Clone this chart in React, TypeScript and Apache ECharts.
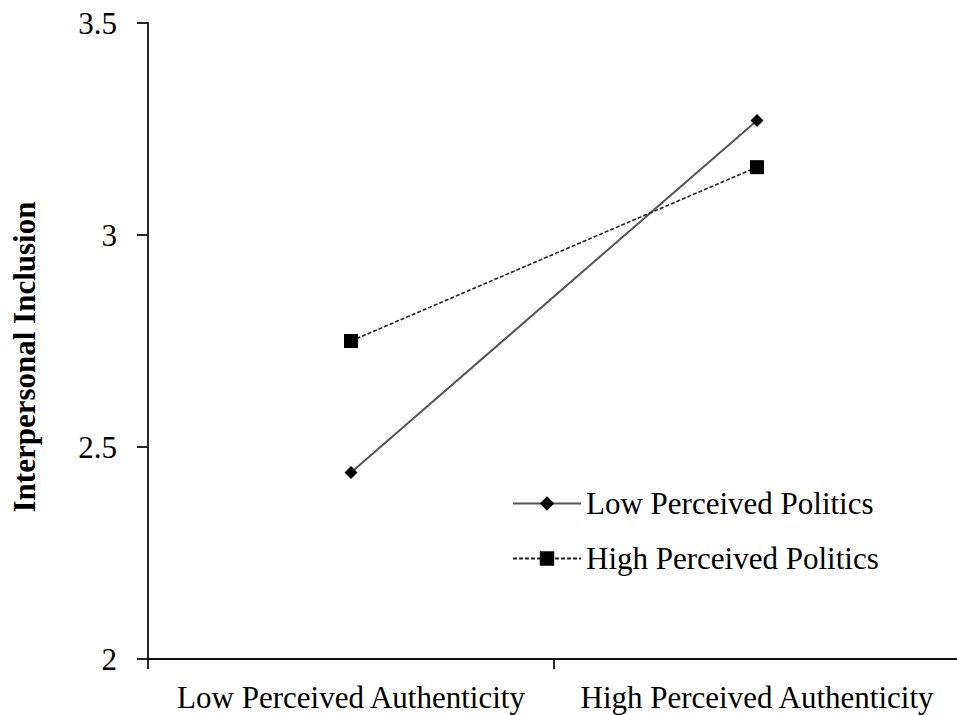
import React, { useEffect, useRef } from "react";
import * as echarts from "echarts";

const categories = ["Low Perceived Authenticity", "High Perceived Authenticity"];
const lowPolitics = [2.44, 3.27];
const highPolitics = [2.75, 3.16];
const seriesNames = ["Low Perceived Politics", "High Perceived Politics"];
const yAxisTitle = "Interpersonal Inclusion";

const FONT = "'Liberation Serif', 'Times New Roman', serif";

export default function App() {
  const ref = useRef<HTMLDivElement>(null);
  useEffect(() => {
    if (!ref.current) return;
    const chart = echarts.init(ref.current, null, { renderer: "svg" });
    chart.setOption({
      animation: false,
      backgroundColor: "#ffffff",
      grid: { left: 148, top: 23, width: 812, height: 636, containLabel: false, outerBoundsMode: "none" },
      legend: {
        orient: "vertical",
        left: 507,
        top: 483,
        itemWidth: 68,
        itemHeight: 18,
        itemGap: 24,
        textStyle: { fontFamily: FONT, fontSize: 31, color: "#000" },
        data: seriesNames,
      },
      xAxis: {
        type: "category",
        data: categories,
        boundaryGap: true,
        axisLine: { lineStyle: { color: "#111", width: 1.8 } },
        axisTick: { show: true, interval: 0, length: 10, lineStyle: { color: "#111", width: 1.8 } },
        axisLabel: { interval: 0, hideOverlap: false, fontFamily: FONT, fontSize: 31, color: "#000", margin: 23 },
        splitLine: { show: false },
      },
      yAxis: {
        type: "value",
        min: 2,
        max: 3.5,
        interval: 0.5,
        axisLine: { show: true, lineStyle: { color: "#111", width: 1.8 } },
        axisTick: { show: true, length: 11, lineStyle: { color: "#111", width: 1.8 } },
        axisLabel: { fontFamily: FONT, fontSize: 31, color: "#000", margin: 31 },
        splitLine: { show: false },
      },
      graphic: [
        {
          type: "text",
          x: 24,
          y: 357,
          rotation: Math.PI / 2,
          style: {
            text: yAxisTitle,
            font: `bold 31px ${FONT}`,
            fill: "#000",
            align: "center",
            verticalAlign: "middle",
          },
        },
      ],
      series: [
        {
          name: seriesNames[0],
          type: "line",
          data: lowPolitics,
          symbol: "diamond",
          symbolSize: 13,
          itemStyle: { color: "#000" },
          lineStyle: { color: "#555", width: 2, type: "solid" },
        },
        {
          name: seriesNames[1],
          type: "line",
          data: highPolitics,
          symbol: "rect",
          symbolSize: 14,
          itemStyle: { color: "#000" },
          lineStyle: { color: "#222", width: 1.6, type: [4, 2] },
        },
      ],
    });
    return () => chart.dispose();
  }, []);
  return (
    <div
      ref={ref}
      style={{ position: "fixed", left: 0, top: 0, width: 957, height: 715, background: "#fff" }}
    />
  );
}
